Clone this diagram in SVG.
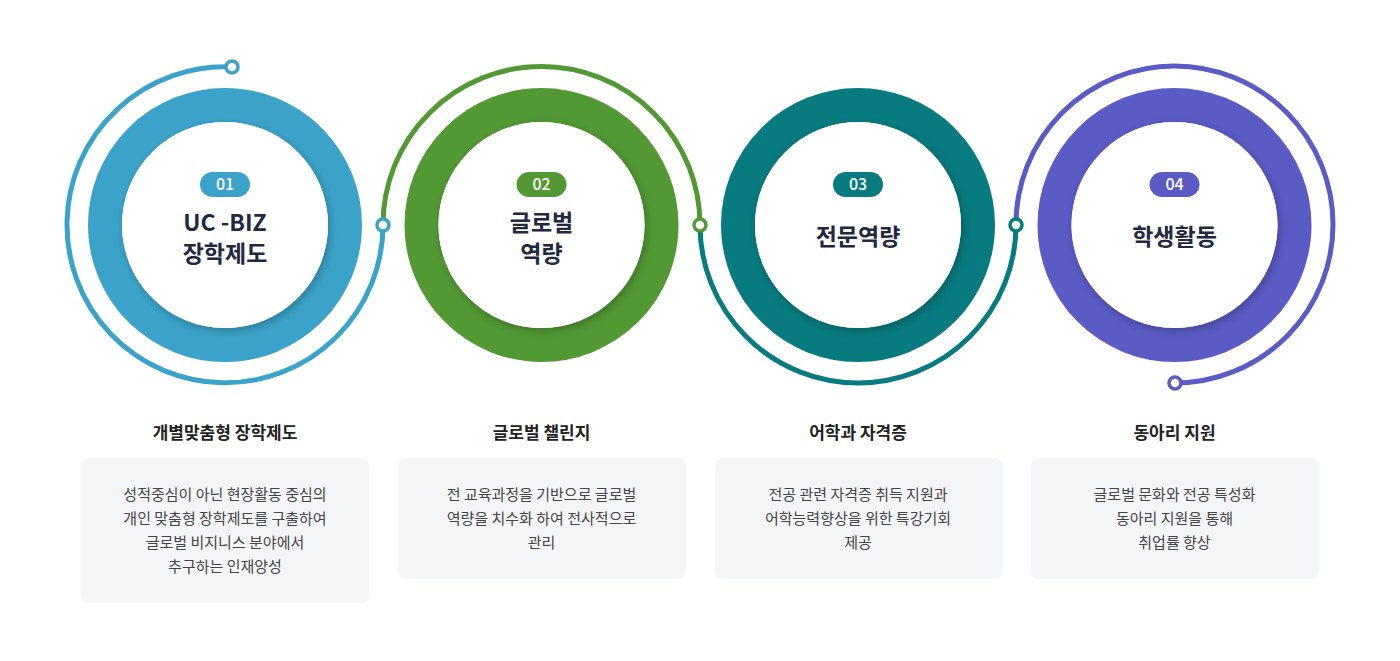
<svg xmlns="http://www.w3.org/2000/svg" width="1400" height="661" viewBox="0 0 1400 661">
<style>
text{font-family:"Noto Sans CJK KR","Noto Sans",sans-serif;text-anchor:middle}
.t{font-size:23px;font-weight:700;fill:#222840}
.n{font-size:16px;font-weight:500;fill:#fff}
.s{font-size:17px;font-weight:700;fill:#222}
.d{font-size:15px;fill:#444}
.box{fill:#f4f5f7}
.arc{fill:none;stroke-width:5}
.dot{fill:#fff;stroke-width:3.5}
</style>
<defs>
<filter id="sh" x="-20%" y="-20%" width="140%" height="140%"><feDropShadow dx="2" dy="3" stdDeviation="4" flood-color="#000" flood-opacity="0.25"/></filter>
</defs>
<rect width="1400" height="661" fill="#fff"/>
<g id="connectors">
<path class="arc" stroke="#3ba3ca" d="M232 67 A158 158 0 1 0 383 225"/>
<path class="arc" stroke="#529934" d="M383 225 A158.5 158.5 0 0 1 700 225"/>
<path class="arc" stroke="#077b80" d="M700 225 A158 158 0 0 0 1016 225"/>
<path class="arc" stroke="#5a5bc5" d="M1016 225 A158.5 158.5 0 1 1 1175 383"/>
<circle class="dot" stroke="#3ba3ca" cx="232" cy="67" r="6"/>
<circle class="dot" stroke="#3ba3ca" cx="383" cy="225" r="6"/>
<circle class="dot" stroke="#529934" cx="700" cy="225" r="6"/>
<circle class="dot" stroke="#077b80" cx="1016" cy="225" r="6"/>
<circle class="dot" stroke="#5a5bc5" cx="1175" cy="383" r="6"/>
</g>
<g id="node1">
<circle cx="225" cy="225" r="120" fill="#fff" stroke="#3ba3ca" stroke-width="34"/>
<circle cx="225" cy="225" r="103" fill="#fff" filter="url(#sh)"/>
<rect x="200" y="172" width="50" height="25" rx="12.5" fill="#3ba3ca"/>
<text class="n" x="225" y="190">01</text>
<text class="t" x="225" y="231">UC -BIZ</text>
<text class="t" x="225" y="262">장학제도</text>
<text class="s" x="225" y="439">개별맞춤형 장학제도</text>
<rect class="box" x="81" y="458" width="288" height="145" rx="8"/>
<text class="d" x="225" y="500">성적중심이 아닌 현장활동 중심의</text>
<text class="d" x="225" y="524">개인 맞춤형 장학제도를 구출하여</text>
<text class="d" x="225" y="548">글로벌 비지니스 분야에서</text>
<text class="d" x="225" y="572">추구하는 인재양성</text>
</g>
<g id="node2">
<circle cx="541.5" cy="225" r="120" fill="#fff" stroke="#529934" stroke-width="34"/>
<circle cx="541.5" cy="225" r="103" fill="#fff" filter="url(#sh)"/>
<rect x="516.5" y="172" width="50" height="25" rx="12.5" fill="#529934"/>
<text class="n" x="541.5" y="190">02</text>
<text class="t" x="541.5" y="231">글로벌</text>
<text class="t" x="541.5" y="262">역량</text>
<text class="s" x="541.5" y="439">글로벌 챌린지</text>
<rect class="box" x="398" y="458" width="288" height="121" rx="8"/>
<text class="d" x="541.5" y="500">전 교육과정을 기반으로 글로벌</text>
<text class="d" x="541.5" y="524">역량을 치수화 하여 전사적으로</text>
<text class="d" x="541.5" y="548">관리</text>
</g>
<g id="node3">
<circle cx="858" cy="225" r="120" fill="#fff" stroke="#077b80" stroke-width="34"/>
<circle cx="858" cy="225" r="103" fill="#fff" filter="url(#sh)"/>
<rect x="833" y="172" width="50" height="25" rx="12.5" fill="#077b80"/>
<text class="n" x="858" y="190">03</text>
<text class="t" x="858" y="245">전문역량</text>
<text class="s" x="858" y="439">어학과 자격증</text>
<rect class="box" x="715" y="458" width="288" height="121" rx="8"/>
<text class="d" x="858" y="500">전공 관련 자격증 취득 지원과</text>
<text class="d" x="858" y="524">어학능력향상을 위한 특강기회</text>
<text class="d" x="858" y="548">제공</text>
</g>
<g id="node4">
<circle cx="1174.5" cy="225" r="120" fill="#fff" stroke="#5a5bc5" stroke-width="34"/>
<circle cx="1174.5" cy="225" r="103" fill="#fff" filter="url(#sh)"/>
<rect x="1149.5" y="172" width="50" height="25" rx="12.5" fill="#5a5bc5"/>
<text class="n" x="1174.5" y="190">04</text>
<text class="t" x="1174.5" y="245">학생활동</text>
<text class="s" x="1174.5" y="439">동아리 지원</text>
<rect class="box" x="1031" y="458" width="288" height="121" rx="8"/>
<text class="d" x="1174.5" y="500">글로벌 문화와 전공 특성화</text>
<text class="d" x="1174.5" y="524">동아리 지원을 통해</text>
<text class="d" x="1174.5" y="548">취업률 향상</text>
</g>
</svg>
